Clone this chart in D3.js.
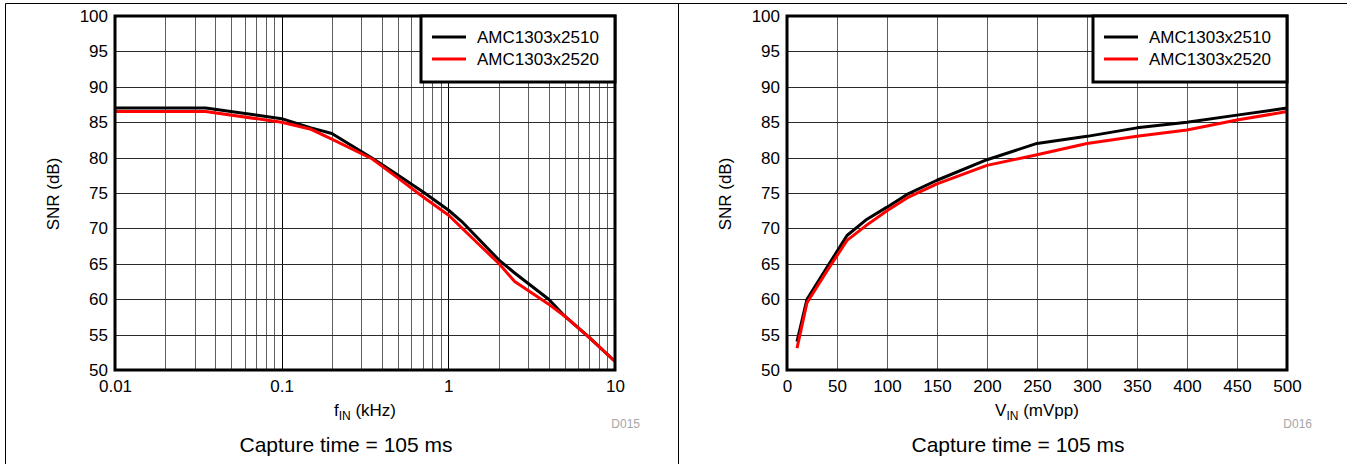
<!DOCTYPE html>
<html>
<head>
<meta charset="utf-8">
<script src="https://cdn.jsdelivr.net/npm/d3@7"></script>
<style>
  body { margin: 0; background: #fff; }
  svg { display: block; font-family: "Liberation Sans", Arial, sans-serif; }
</style>
</head>
<body>
<div id="chart"></div>
<script>
// Left panel: SNR vs input frequency (kHz)
const freqKHz2510 = [0.01, 0.035, 0.1, 0.15, 0.2, 0.35, 0.48, 0.71, 1.0, 1.2, 2.0, 2.5, 4.0, 5.0, 7.0, 10];
const snr2510Freq = [87, 87, 85.5, 84.2, 83.4, 79.9, 77.8, 75.1, 72.6, 71.0, 65.6, 63.7, 60.0, 57.6, 54.6, 51.2];
const freqKHz2520 = [0.01, 0.035, 0.1, 0.15, 0.2, 0.35, 0.5, 0.7, 1.0, 1.5, 2.0, 2.5, 4.0, 5.0, 7.0, 10];
const snr2520Freq = [86.5, 86.5, 85.0, 84.0, 82.6, 79.8, 77.1, 74.5, 71.9, 67.9, 65.1, 62.5, 59.3, 57.6, 54.6, 51.2];

// Right panel: SNR vs input amplitude (mVpp)
const vinMvpp = [10, 20, 40, 60, 80, 100, 120, 150, 200, 250, 300, 350, 400, 450, 500];
const snr2510Vin = [54.0, 60.0, 64.5, 69.0, 71.3, 73.0, 74.8, 76.8, 79.7, 82.0, 83.0, 84.2, 85.0, 86.0, 87.0];
const snr2520Vin = [53.1, 59.5, 64.0, 68.3, 70.5, 72.5, 74.3, 76.3, 78.9, 80.4, 82.0, 83.0, 83.9, 85.3, 86.5];

const seriesNames = ["AMC1303x2510", "AMC1303x2520"];
const seriesColors = ["#000000", "#ff0000"];
const yTicks = [50, 55, 60, 65, 70, 75, 80, 85, 90, 95, 100];
const logTicks = [0.01, 0.1, 1, 10];
const linTicks = [0, 50, 100, 150, 200, 250, 300, 350, 400, 450, 500];

const W = 1347, H = 464;
const svg = d3.select("#chart").append("svg")
    .attr("width", W).attr("height", H);

// outer frame and divider
svg.append("path")
    .attr("d", `M5.5,${H} V3.5 H${W}`)
    .attr("fill", "none").attr("stroke", "#000").attr("stroke-width", 1);
svg.append("line")
    .attr("x1", 678.5).attr("x2", 678.5).attr("y1", 3).attr("y2", H)
    .attr("stroke", "#000").attr("stroke-width", 1);

function buildPanel(opts) {
    const left = opts.left, top = 16, width = 500, height = 354;
    const g = svg.append("g").attr("transform", `translate(${left},${top})`);

    const x = opts.xScale.range([0, width]);
    const y = d3.scaleLinear().domain([50, 100]).range([height, 0]);

    // vertical grid lines
    g.selectAll(".vgrid")
    .data(opts.gridX)
    .join("line")
        .attr("x1", (d) => Math.round(x(d)) + 0.5)
        .attr("x2", (d) => Math.round(x(d)) + 0.5)
        .attr("y1", 0).attr("y2", height)
        .attr("stroke", (d) => opts.majorX(d) ? "#000" : "#5e5e5e")
        .attr("stroke-width", 1);

    // horizontal grid lines
    g.selectAll(".hgrid")
    .data(yTicks)
    .join("line")
        .attr("x1", 0).attr("x2", width)
        .attr("y1", (d) => Math.round(y(d)) + 0.5)
        .attr("y2", (d) => Math.round(y(d)) + 0.5)
        .attr("stroke", "#2a2a2a")
        .attr("stroke-width", 1);

    // y axis labels
    g.append("g")
        .call(d3.axisLeft(y).tickValues(yTicks).tickSize(0).tickPadding(7))
        .call((a) => a.select(".domain").remove())
        .selectAll("text")
            .style("font-size", "17px")
            .style("font-family", "Liberation Sans, Arial, sans-serif")
            .attr("fill", "#000");

    // x axis labels
    g.append("g")
        .attr("transform", `translate(0,${height})`)
        .call(d3.axisBottom(x).tickValues(opts.xTicks).tickFormat(opts.fmt).tickSize(0).tickPadding(10))
        .call((a) => a.select(".domain").remove())
        .selectAll("text")
            .style("font-size", "17px")
            .style("font-family", "Liberation Sans, Arial, sans-serif")
            .attr("fill", "#000");

    // curves
    const line = d3.line().x((d) => x(d[0])).y((d) => y(d[1]));
    opts.series.forEach((s, i) => {
        g.append("path")
            .datum(d3.zip(s.x, s.y))
            .attr("d", line)
            .attr("fill", "none")
            .attr("stroke", seriesColors[i])
            .attr("stroke-width", 3)
            .attr("stroke-linejoin", "round");
    });

    // plot frame
    g.append("rect")
        .attr("x", 0).attr("y", 0).attr("width", width).attr("height", height)
        .attr("fill", "none").attr("stroke", "#000").attr("stroke-width", 3);

    // legend
    const lg = g.append("g").attr("transform", `translate(${width - 194},0)`);
    lg.append("rect")
        .attr("x", 0).attr("y", 0).attr("width", 194).attr("height", 66)
        .attr("fill", "#fff").attr("stroke", "#000").attr("stroke-width", 3);
    seriesNames.forEach((name, i) => {
        const ly = 21 + i * 22;
        lg.append("line")
            .attr("x1", 11).attr("x2", 45).attr("y1", ly).attr("y2", ly)
            .attr("stroke", seriesColors[i]).attr("stroke-width", 3);
        lg.append("text")
            .attr("x", 56).attr("y", ly + 6)
            .style("font-size", "17px")
            .text(name);
    });

    // y title
    g.append("text")
        .attr("transform", `translate(-56,${height / 2 + 1}) rotate(-90)`)
        .style("text-anchor", "middle")
        .style("font-size", "17px")
        .text("SNR (dB)");

    // x title with subscript
    const xt = g.append("text")
        .attr("x", width / 2).attr("y", height + 46)
        .style("text-anchor", "middle")
        .style("font-size", "17px");
    xt.append("tspan").text(opts.xSym);
    xt.append("tspan").attr("dy", 4).style("font-size", "12px").text("IN");
    xt.append("tspan").attr("dy", -4).text(" " + opts.xUnit);

    // figure code
    g.append("text")
        .attr("x", width + 25).attr("y", height + 58)
        .style("font-size", "12px")
        .attr("fill", "#a6a6a6")
        .style("text-anchor", "end")
        .text(opts.code);

    // caption
    g.append("text")
        .attr("x", opts.captionX - left).attr("y", height + 82)
        .style("text-anchor", "middle")
        .style("font-size", "21px")
        .text("Capture time = 105 ms");
}

const logGrid = [];
[0.01, 0.1, 1].forEach((dec) => {
    for (let k = 1; k <= 9; k++) logGrid.push(dec * k);
});
logGrid.push(10);

buildPanel({
    left: 115,
    xScale: d3.scaleLog().domain([0.01, 10]),
    gridX: logGrid,
    majorX: (d) => logTicks.some((t) => Math.abs(t - d) / t < 1e-6),
    xTicks: logTicks,
    fmt: (d) => d >= 1 ? d3.format("d")(d) : String(d),
    xSym: "f",
    xUnit: "(kHz)",
    code: "D015",
    captionX: 346,
    series: [
        { x: freqKHz2510, y: snr2510Freq },
        { x: freqKHz2520, y: snr2520Freq }
    ]
});

buildPanel({
    left: 787,
    xScale: d3.scaleLinear().domain([0, 500]),
    gridX: linTicks,
    majorX: () => false,
    xTicks: linTicks,
    fmt: d3.format("d"),
    xSym: "V",
    xUnit: "(mVpp)",
    code: "D016",
    captionX: 1018,
    series: [
        { x: vinMvpp, y: snr2510Vin },
        { x: vinMvpp, y: snr2520Vin }
    ]
});
</script>
</body>
</html>
